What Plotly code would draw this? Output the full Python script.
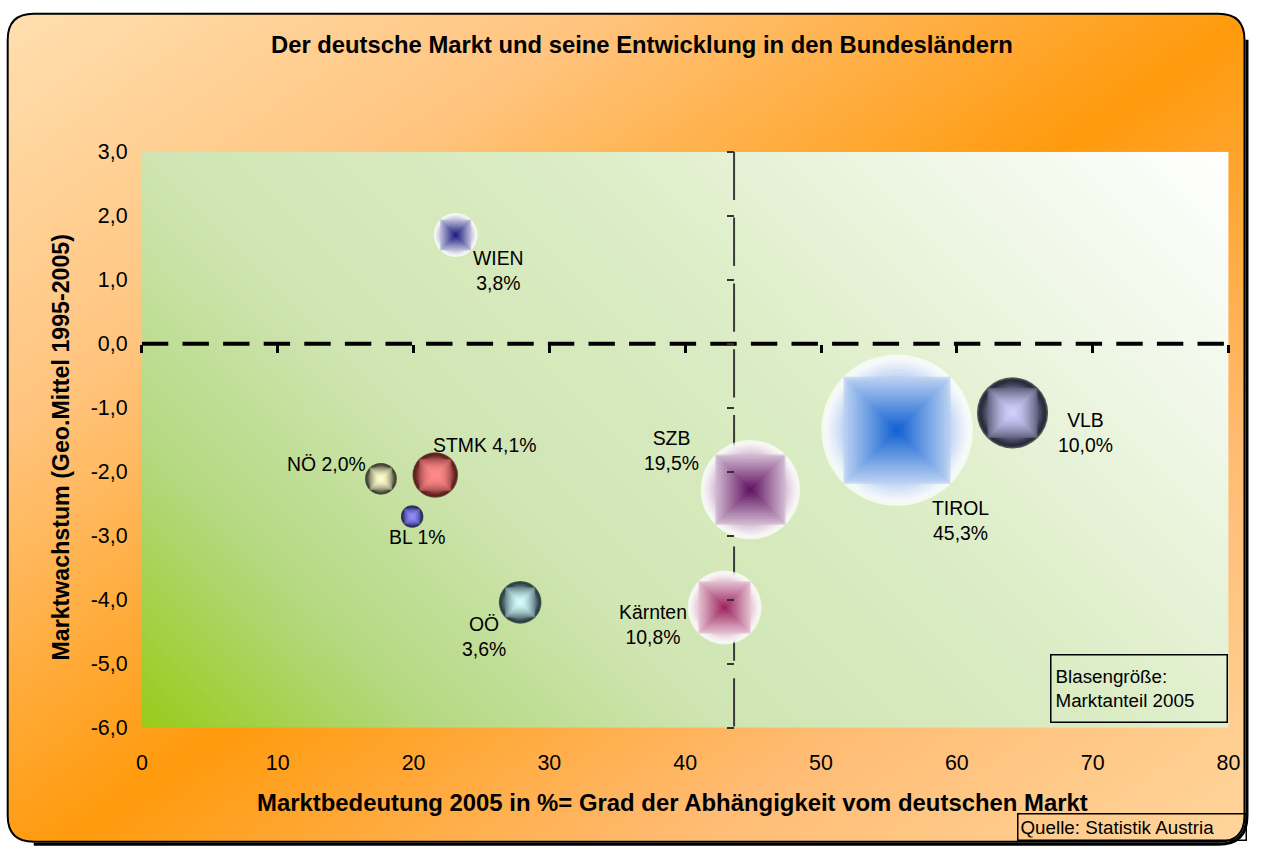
import numpy as np
import plotly.graph_objects as go

# ---- data ----
regionen = ["WIEN", "NÖ", "STMK", "BL", "OÖ", "Kärnten", "SZB", "TIROL", "VLB"]
marktbedeutung = [23.1, 17.6, 21.6, 19.9, 27.85, 42.9, 44.8, 55.6, 64.1]      # x, %
marktwachstum = [1.70, -2.11, -2.05, -2.70, -4.04, -4.12, -2.28, -1.35, -1.08]  # y, %
marktanteil = [3.8, 2.0, 4.1, 1.0, 3.6, 10.8, 19.5, 45.3, 10.0]                 # bubble size
beschriftung = ["WIEN<br>3,8%", "NÖ 2,0%", "STMK 4,1%", "BL 1%", "OÖ<br>3,6%",
                "Kärnten<br>10,8%", "SZB<br>19,5%", "TIROL<br>45,3%", "VLB<br>10,0%"]
y_ticks = [3, 2, 1, 0, -1, -2, -3, -4, -5, -6]
y_ticktext = ["3,0", "2,0", "1,0", "0,0", "-1,0", "-2,0", "-3,0", "-4,0", "-5,0", "-6,0"]
y_achse_kreuzt = 43.6   # where the vertical axis crosses

# ---- styles ----
label_shift = [(42, -35), (-54, 14), (48, 29), (5, -20), (-36, -33),
               (-70, -17), (-78, 38), (62, -88), (72, -19)]
farbe_mitte = ['#14147a', '#ffffcc', '#ff8a8a', '#9090ff', '#d4ffff',
               '#9a1c58', '#5c0a5c', '#0a5cd0', '#d0d0ff']
farbe_rand = ['#ffffff', '#24241c', '#400808', '#181848', '#14242c',
              '#ffffff', '#ffffff', '#ffffff', '#121222']
gamma = [1.0, 2.0, 2.4, 1.8, 1.8, 1.0, 1.0, 1.0, 1.7]
FONT = "Liberation Sans, Arial, sans-serif"

W, H = 1261, 861
# the photographed page comes back slightly shrunk and framed; layout is given in
# target-picture pixels and mapped back to page pixels with this calibration
SX, OX = 0.9843, 7.3
SY, OY = 0.9722, 12.2
pl, pr, pt, pb = 143, 1228, 152, 728      # plot area in picture pixels


def pxp(x):   # picture x -> paper fraction
    return (x - OX) / SX / W


def pyp(y):
    return 1 - (y - OY) / SY / H


xdom = [pxp(pl), pxp(pr)]
ydom = [pyp(pb), pyp(pt)]
S = (SX + SY) / 2


def hex2rgb(c):
    c = c.lstrip('#')
    return [int(c[i:i + 2], 16) for i in (0, 2, 4)]


def mix(c0, c1, t):
    a, b = hex2rgb(c0), hex2rgb(c1)
    return 'rgb(%d,%d,%d)' % tuple(round(a[i] + (b[i] - a[i]) * t) for i in range(3))


fig = go.Figure()

# orange paper gradient on a background axis pair in picture pixels
gx = np.linspace(OX, OX + SX * W, 64)
gy = np.linspace(OY, OY + SY * H, 44)
GX, GY = np.meshgrid(gx, gy)
s = ((GX - 180) * 640 + (GY - 760) * 920) / 1121
fig.add_trace(go.Heatmap(x=gx, y=gy, z=s, zmin=-730, zmax=705, zsmooth='best',
                         colorscale=[[0, '#ffe0b2'], [0.25, '#ffc47e'], [0.51, '#ff9a0c'],
                                     [0.75, '#ffbb72'], [1, '#ffd8a0']],
                         showscale=False, hoverinfo='skip', xaxis='x', yaxis='y'))

# green plot area gradient
hx = np.linspace(0, 80, 50)
hy = np.linspace(-6, 3, 30)
HX, HY = np.meshgrid(hx, hy)
tt = (HX / 80 * 1085 + (HY + 6) / 9 * 576) / 1661
fig.add_trace(go.Heatmap(x=hx, y=hy, z=tt, zmin=0, zmax=1, zsmooth='best',
                         colorscale=[[0, '#98cb1a'], [0.17, '#b4d880'], [0.35, '#cfe5b2'],
                                     [0.6, '#dcedc6'], [0.8, '#eef6e4'], [1, '#ffffff']],
                         showscale=False, hoverinfo='skip', xaxis='x2', yaxis='y2'))

# dashed x-axis at y=0 and dashed vertical axis
fig.add_trace(go.Scatter(x=[0, 80], y=[0, 0], mode='lines', xaxis='x2', yaxis='y2',
                         line=dict(color='black', width=4, dash='%.1fpx,%.1fpx' % (26 / SX, 14 / SX)),
                         hoverinfo='skip', showlegend=False))
fig.add_trace(go.Scatter(x=[y_achse_kreuzt, y_achse_kreuzt], y=[3, -6], mode='lines',
                         xaxis='x2', yaxis='y2',
                         line=dict(color='#3a3a3a', width=2, dash='%.1fpx,%.1fpx' % (47 / SY, 17 / SY)),
                         hoverinfo='skip', showlegend=False))

# bubbles: stacked layers to imitate the rectangular gradient fill
durchmesser = [22 / S * np.sqrt(v) for v in marktanteil]
stufen = [(f, 'circle') for f in np.linspace(1.0, 0.72, 8)] + \
         [(f, 'square') for f in np.linspace(0.707, 0.03, 24)]
for f, sym in stufen:
    fig.add_trace(go.Scatter(
        x=marktbedeutung, y=marktwachstum, mode='markers', xaxis='x2', yaxis='y2',
        marker=dict(symbol=sym, size=[d * f for d in durchmesser],
                    color=[mix(c0, c1, f ** g) for c0, c1, g in zip(farbe_mitte, farbe_rand, gamma)],
                    line=dict(width=0)),
        hoverinfo='skip', showlegend=False))

# helper traces so the overlay axes (ticks on the crossing axes) get drawn
fig.add_trace(go.Scatter(x=[None], y=[None], xaxis='x3', yaxis='y2', showlegend=False, hoverinfo='skip'))
fig.add_trace(go.Scatter(x=[None], y=[None], xaxis='x2', yaxis='y3', showlegend=False, hoverinfo='skip'))

ann = []
for i, txt in enumerate(beschriftung):
    ann.append(dict(x=marktbedeutung[i], y=marktwachstum[i], xref='x2', yref='y2',
                    text=txt, showarrow=False,
                    xshift=label_shift[i][0] / SX, yshift=label_shift[i][1] / SY,
                    font=dict(size=19.4, color='black', family=FONT)))

ann += [
    dict(x=642, y=45, xref='x', yref='y', xanchor='center', yanchor='middle', showarrow=False,
         text="<b>Der deutsche Markt und seine Entwicklung in den Bundesländern</b>",
         font=dict(size=23.8, color='black', family=FONT)),
    dict(x=673, y=803, xref='x', yref='y', xanchor='center', yanchor='middle', showarrow=False,
         text="<b>Marktbedeutung 2005 in %= Grad der Abhängigkeit vom deutschen Markt</b>",
         font=dict(size=23.9, color='black', family=FONT)),
    dict(x=62, y=447, xref='x', yref='y', xanchor='center', yanchor='middle',
         showarrow=False, textangle=-90,
         text="<b>Marktwachstum (Geo.Mittel 1995-2005)</b>",
         font=dict(size=23.2, color='black', family=FONT)),
    dict(x=pr, y=723, xref='x', yref='y', xanchor='right', yanchor='bottom',
         showarrow=False, align='left', text="Blasengröße:<br>Marktanteil 2005",
         bordercolor='black', borderwidth=1.5, borderpad=4, width=175 / SX - 11, height=67 / SY - 11,
         font=dict(size=18.8, color='black', family=FONT)),
    dict(x=1017, y=841, xref='x', yref='y', xanchor='left', yanchor='bottom',
         showarrow=False, align='left', text="Quelle: Statistik Austria",
         bordercolor='black', borderwidth=1.5, borderpad=2, width=226 / SX - 7, height=21,
         font=dict(size=18.8, color='black', family=FONT)),
]


def rrect(l, t, r, b, rad):
    return (f"M {l + rad},{t} H {r - rad} Q {r},{t} {r},{t + rad} V {b - rad} "
            f"Q {r},{b} {r - rad},{b} H {l + rad} Q {l},{b} {l},{b - rad} V {t + rad} "
            f"Q {l},{t} {l + rad},{t} Z")


bl, bt, br, bb, rad = 9, 14, 1244, 842, 26
shapes = [
    dict(type='path', xref='x', yref='y', layer='above',
         path=f"M -10,-10 H 1280 V 880 H -10 Z " + rrect(bl, bt, br, bb, rad),
         fillcolor='white', fillrule='evenodd', line=dict(width=0)),
    dict(type='path', xref='x', yref='y', layer='above',
         path=f"M {bl + rad},{bb + 2.5} H {br - rad} Q {br + 2.5},{bb + 2.5} {br + 2.5},{bb - rad} V {bt + rad}",
         line=dict(color='black', width=3)),
    dict(type='path', xref='x', yref='y', layer='above', path=rrect(bl, bt, br, bb, rad),
         line=dict(color='black', width=2)),
]

fig.update_layout(
    width=W, height=H, margin=dict(l=0, r=0, t=0, b=0, pad=0), autosize=False,
    paper_bgcolor='white', plot_bgcolor='rgba(0,0,0,0)', showlegend=False,
    separators=',.', font=dict(family=FONT, color='black'),
    xaxis=dict(domain=[0, 1], range=[OX, OX + SX * W], visible=False, fixedrange=True),
    yaxis=dict(domain=[0, 1], range=[OY + SY * H, OY], visible=False, fixedrange=True),
    xaxis2=dict(domain=xdom, range=[0, 80], anchor='y2', dtick=10, tick0=0,
                showgrid=False, zeroline=False, showline=False,
                ticks='outside', ticklen=16, tickcolor='rgba(0,0,0,0)',
                tickfont=dict(size=21.4, family=FONT, color='black')),
    yaxis2=dict(domain=ydom, range=[-6, 3], anchor='x2', tickvals=y_ticks, ticktext=y_ticktext,
                showgrid=False, zeroline=False, showline=False,
                ticks='outside', ticklen=9, tickcolor='rgba(0,0,0,0)',
                tickfont=dict(size=21.4, family=FONT, color='black')),
    xaxis3=dict(overlaying='x2', anchor='free', position=ydom[0] + (0 + 6) / 9 * (ydom[1] - ydom[0]),
                range=[0, 80], dtick=10, tick0=0, side='bottom', ticks='outside', ticklen=8 / SY,
                tickwidth=3, tickcolor='black', showticklabels=False, showgrid=False,
                zeroline=False, showline=False),
    yaxis3=dict(overlaying='y2', anchor='free',
                position=xdom[0] + y_achse_kreuzt / 80 * (xdom[1] - xdom[0]),
                range=[-6, 3], dtick=1, side='left', ticks='outside', ticklen=7 / SX,
                tickwidth=1.5, tickcolor='#333333', showticklabels=False, showgrid=False,
                zeroline=False, showline=False),
    annotations=ann, shapes=shapes,
)

fig.write_html("out.html", config={'displayModeBar': False},
               post_script="document.body.style.margin='0';document.body.style.overflow='hidden';")
